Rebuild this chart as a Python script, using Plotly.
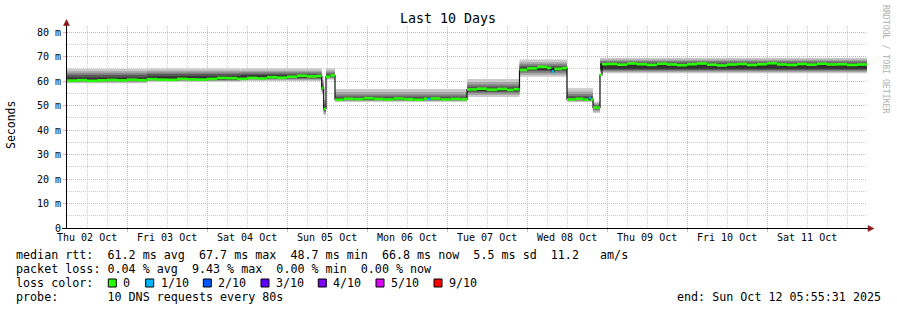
import plotly.graph_objects as go
from datetime import datetime, timedelta

# ---------------- data ----------------
START = datetime(2025, 10, 2, 5, 55, 31)
SPAN_H = 240  # 10 days

# median RTT samples (hours since START, ms)
MED_H = [0, 3, 6, 9, 12, 15, 18, 21, 24, 27, 30, 33, 36, 39, 42, 45, 48, 51, 54, 57, 60, 63, 66, 69, 72, 75,
         76.4, 77.0, 77.7, 79.0,
         80.4, 83, 86, 89, 92, 95, 98, 101, 104, 107, 108, 109, 112, 115, 118,
         120, 123, 126, 129, 132, 134,
         135.75, 138, 141, 144, 145.3, 146.2, 148.5,
         150, 152.5, 155, 156.5, 157.1,
         157.8,
         159.9, 160.5, 162, 165, 168, 171, 174, 177, 180, 183, 186, 189, 192, 195, 198, 201, 204,
         207, 210, 213, 216, 219, 222, 225, 228, 231, 234, 237]
MED_MS = [60.2, 60.4, 60.1, 60.3, 60.5, 60.3, 60.6, 60.4, 60.8, 60.6, 60.5, 60.9, 60.7, 60.6, 60.9, 61.3,
          61.2, 60.9, 61.3, 61.1, 61.6, 61.4, 61.8, 62.2, 61.9, 62.1,
          57.2, 48.7, 61.8, 62.3,
          52.4, 52.8, 52.6, 53.0, 52.7, 52.5, 52.9, 52.6, 52.4, 52.8, 52.6, 52.9, 52.5, 52.7, 52.6,
          56.6, 56.9, 56.5, 56.8, 56.4, 56.7,
          64.6, 65.2, 65.8, 65.4, 63.9, 65.0, 65.3,
          52.5, 52.8, 52.4, 53.1, 52.5,
          49.2,
          62.5, 66.9, 67.0, 66.7, 67.2, 66.9, 66.6, 67.1, 66.8, 66.5, 66.9, 67.2, 66.7, 66.4, 66.8,
          67.0, 66.6, 66.9, 67.3, 66.8, 66.6, 67.0, 66.7, 67.1, 66.8, 66.9, 66.6, 66.8]
MED_LOSS = [0] * 40 + [1] + [0] * 14 + [1] + [0] * 5 + [1] + [0] * 30

# smoke: per regime, the 10 sorted ping values (ms)
SMOKE_H = [0, 24, 52, 76.4, 77.0, 77.7, 80.4, 120, 135.75, 150, 157.8, 159.9]
P1 = [59.1, 59.6, 60.0, 54.5, 46.0, 60.6, 51.5, 53.5, 61.8, 51.4, 47.0, 63.2]
P2 = [59.5, 60.0, 60.5, 55.2, 46.7, 61.0, 51.9, 54.3, 62.6, 51.8, 47.6, 63.7]
P3 = [59.8, 60.3, 60.9, 55.8, 47.3, 61.4, 52.2, 55.0, 63.4, 52.1, 48.2, 64.2]
P4 = [60.0, 60.6, 61.2, 56.4, 47.9, 61.7, 52.4, 55.6, 64.1, 52.4, 48.7, 64.5]
P5 = [60.2, 60.8, 61.5, 56.9, 48.5, 62.0, 52.6, 56.3, 64.8, 52.6, 49.1, 65.0]
P6 = [61.5, 62.0, 62.4, 57.4, 49.0, 62.5, 53.1, 57.0, 65.5, 53.2, 49.5, 67.0]
P7 = [62.5, 62.9, 63.0, 58.2, 49.6, 63.0, 53.7, 57.8, 66.2, 53.9, 49.9, 67.6]
P8 = [63.2, 63.5, 63.6, 59.3, 50.4, 63.6, 54.5, 58.6, 66.9, 54.7, 50.4, 68.2]
P9 = [64.0, 64.2, 64.2, 60.5, 51.3, 64.3, 55.5, 59.6, 67.7, 55.7, 50.9, 68.8]
P10 = [65.0, 65.2, 65.3, 62.0, 52.5, 65.2, 56.8, 60.9, 68.8, 57.1, 51.6, 69.5]

DAY_LABELS = ["Thu 02 Oct", "Fri 03 Oct", "Sat 04 Oct", "Sun 05 Oct", "Mon 06 Oct",
              "Tue 07 Oct", "Wed 08 Oct", "Thu 09 Oct", "Fri 10 Oct", "Sat 11 Oct"]
Y_TICKS = [0, 10, 20, 30, 40, 50, 60, 70, 80]
Y_TICK_LABELS = ["0", "10 m", "20 m", "30 m", "40 m", "50 m", "60 m", "70 m", "80 m"]

LOSS_NAMES = ["0", "1/10", "2/10", "3/10", "4/10", "5/10", "9/10"]
LOSS_COLORS = ["#26ff00", "#00b8ff", "#0059ff", "#5e00ff", "#7e00ff", "#dd00ff", "#ff0000"]

STAT_RTT = "median rtt:  61.2 ms avg  67.7 ms max  48.7 ms min  66.8 ms now  5.5 ms sd  11.2   am/s"
STAT_LOSS = "packet loss: 0.04 % avg  9.43 % max  0.00 % min  0.00 % now"
PROBE = "probe:       10 DNS requests every 80s"
END_TXT = "end: Sun Oct 12 05:55:31 2025"
TITLE = "Last 10 Days"
Y_TITLE = "Seconds"
WATERMARK = "RRDTOOL / TOBI OETIKER"

# ---------------- geometry ----------------
W, H = 897, 310
ML, MR, MT, MB = 67, 30, 27, 82
PW, PH = W - ML - MR, H - MT - MB
YMAX = 82.1
FONT = "DejaVu Sans Mono"


def T(h):
    return START + timedelta(hours=h)


def pxx(x):
    return (x - ML) / PW


def pxy(y):
    return (H - MB - y) / PH


fig = go.Figure()

# smoke
P = [P1, P2, P3, P4, P5, P6, P7, P8, P9, P10]
SHADES = ["#cacaca", "#a4a4a4", "#7e7e7e", "#585858", "#323232"]
edges = SMOKE_H + [SPAN_H]
for k in range(5):
    lo, hi = P[k], P[9 - k]
    xs, ws, bs, hs = [], [], [], []
    for i in range(len(SMOKE_H)):
        a, b = edges[i], edges[i + 1]
        xs.append(T((a + b) / 2))
        ws.append((b - a) * 3600 * 1000)
        bs.append(lo[i])
        hs.append(hi[i] - lo[i])
    fig.add_trace(go.Bar(x=xs, y=hs, base=bs, width=ws,
                         marker=dict(color=SHADES[k], line=dict(width=0)),
                         hoverinfo="skip", showlegend=False))

# median black step line
mx = [T(h) for h in MED_H] + [T(SPAN_H)]
my = MED_MS + [MED_MS[-1]]
fig.add_trace(go.Scatter(x=mx, y=my, mode="lines", line=dict(color="#101010", width=1.2, shape="hv"),
                         hoverinfo="skip", showlegend=False))

# loss-coloured median segments
mh = MED_H + [SPAN_H]
for lvl in sorted(set(MED_LOSS)):
    sx, sy = [], []
    for i, v in enumerate(MED_MS):
        if MED_LOSS[i] != lvl:
            continue
        sx += [T(mh[i]), T(mh[i + 1]), None]
        sy += [v, v, None]
    fig.add_trace(go.Scatter(x=sx, y=sy, mode="lines", line=dict(color=LOSS_COLORS[lvl], width=2.6),
                             hoverinfo="skip", showlegend=False, connectgaps=False))

MAJOR = "#f5a3a3"
MINOR = "#cdcdcd"
midnights = [datetime(2025, 10, d) for d in range(3, 12)]
noons = [datetime(2025, 10, d, 12) for d in range(2, 12)]

fig.update_layout(
    width=W, height=H, margin=dict(l=ML, r=MR, t=MT, b=MB, pad=0),
    paper_bgcolor="white", plot_bgcolor="white",
    barmode="overlay", showlegend=False,
    font=dict(family=FONT, size=10, color="#000"),
    xaxis=dict(type="date", range=[T(0), T(SPAN_H)], tickvals=midnights, showticklabels=False,
               showgrid=True, gridcolor=MAJOR, griddash="1px,1px", gridwidth=1,
               ticks="outside", ticklen=3, tickcolor=MAJOR,
               minor=dict(dtick=6 * 3600 * 1000, tick0="2025-10-02", showgrid=True,
                          gridcolor=MINOR, griddash="1px,1px", gridwidth=1),
               zeroline=False, showline=False, fixedrange=True),
    yaxis=dict(range=[0, YMAX], tickvals=Y_TICKS, ticktext=Y_TICK_LABELS,
               showgrid=True, gridcolor=MAJOR, griddash="1px,1px", gridwidth=1,
               ticks="outside", ticklen=3, tickcolor=MAJOR,
               minor=dict(dtick=5, showgrid=True, gridcolor=MINOR, griddash="1px,1px", gridwidth=1),
               zeroline=False, showline=False, tickfont=dict(size=10, color="#000"), fixedrange=True),
)

ann = []
for d, lab in zip(noons, DAY_LABELS):
    ann.append(dict(x=d, y=0, xref="x", yref="paper", yshift=-9.5, text=lab, showarrow=False,
                    xanchor="center", yanchor="middle", font=dict(size=10), borderpad=0))


def txt(x, y, s, size=11.7, anchor="left", **kw):
    ann.append(dict(x=pxx(x), y=pxy(y), xref="paper", yref="paper", text=s, showarrow=False,
                    xanchor=anchor, yanchor="middle", font=dict(size=size, color=kw.pop("color", "#000")),
                    borderpad=0, **kw))


txt(448, 19, TITLE, size=13.3, anchor="center")
txt(11, 125, Y_TITLE, size=11.5, anchor="center", textangle=-90)
txt(886, 59, WATERMARK, size=8.2, anchor="center", textangle=90, color="#b0b0b0")
txt(15, 254.5, STAT_RTT)
txt(15, 268.5, STAT_LOSS)
txt(15, 283, "loss color:")
txt(15, 296.5, PROBE)
txt(882, 296.5, END_TXT, anchor="right")

shapes = []
box_x = [108.3, 145.7, 203.3, 261.0, 318.3, 376.0, 434.0]
lab_x = [123.3, 160.7, 218.3, 276.0, 333.3, 390.7, 449.0]
for bx, lx, name, col in zip(box_x, lab_x, LOSS_NAMES, LOSS_COLORS):
    shapes.append(dict(type="rect", xref="paper", yref="paper", x0=pxx(bx), x1=pxx(bx + 8),
                       y0=pxy(287), y1=pxy(279), fillcolor=col, line=dict(color="#000", width=1)))
    txt(lx - 1, 283, name)

# axes lines + arrows
shapes.append(dict(type="line", xref="paper", yref="paper", x0=pxx(66.5), x1=pxx(66.5),
                   y0=pxy(228.5), y1=pxy(24), line=dict(color="#000", width=1)))
shapes.append(dict(type="line", xref="paper", yref="paper", x0=pxx(62), x1=pxx(869),
                   y0=pxy(228.5), y1=pxy(228.5), line=dict(color="#000", width=1)))
ARROW = "#8b1a1a"
shapes.append(dict(type="path", xref="paper", yref="paper",
                   path=f"M {pxx(66.5)} {pxy(19.5)} L {pxx(63.5)} {pxy(25.5)} L {pxx(69.5)} {pxy(25.5)} Z",
                   fillcolor=ARROW, line=dict(color=ARROW, width=0.5)))
shapes.append(dict(type="path", xref="paper", yref="paper",
                   path=f"M {pxx(874)} {pxy(228.5)} L {pxx(868)} {pxy(225.5)} L {pxx(868)} {pxy(231.5)} Z",
                   fillcolor=ARROW, line=dict(color=ARROW, width=0.5)))

fig.update_layout(annotations=ann, shapes=shapes)
fig.write_html("out.html")
